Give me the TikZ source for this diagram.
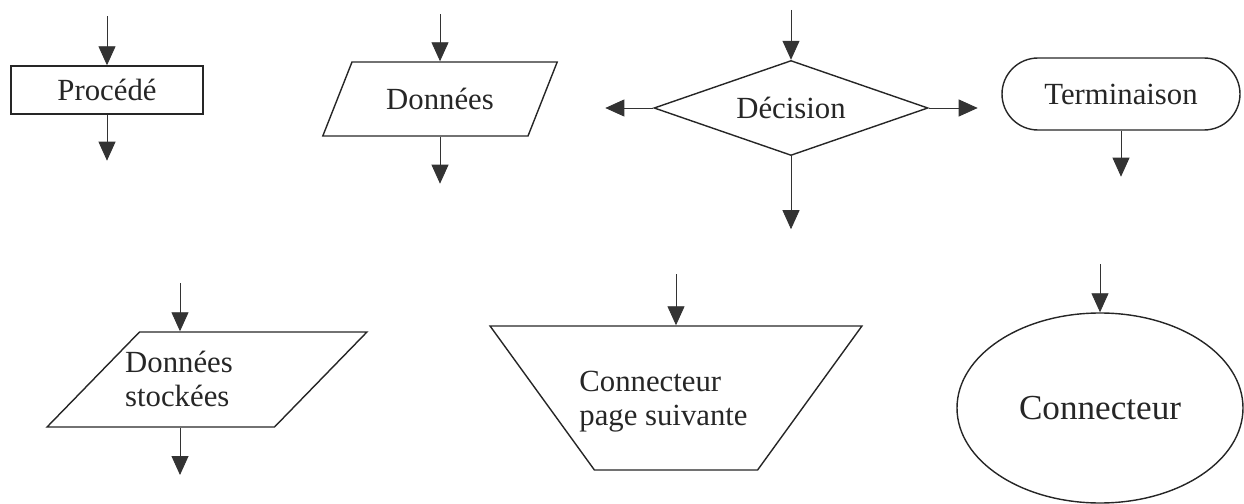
\documentclass[tikz,border=0pt]{standalone}
\usepackage{fontspec}
\setmainfont{Liberation Serif}
\usetikzlibrary{arrows.meta,positioning,shapes.geometric}

\begin{document}
\begin{tikzpicture}[
    sym/.style={draw=black!85, line width=0.8pt, align=center, text=black!85, font=\fontsize{17.5}{19.5}\selectfont, inner sep=0pt},
    para/.style={sym, trapezium, trapezium stretches=true, inner sep=3pt},
    txt/.style={align=left, text=black!85, font=\fontsize{17.5}{19.5}\selectfont, inner sep=0pt},
    arrow/.style={-{Triangle[width=0.34cm,length=0.38cm]}, line width=0.5pt, black!80}
]
    \useasboundingbox (0,0) rectangle (24.88,-10.08);

    % Top row
    \node[sym, minimum width=3.84cm, minimum height=0.96cm] (proc) at (2.14,-1.80) {Procédé};
    \node[para, trapezium left angle=58.7, trapezium right angle=121.3, minimum width=4.72cm, minimum height=1.48cm] (data) at (8.80,-1.98) {Données};
    \node[sym, diamond, aspect=2.88, minimum width=5.48cm, minimum height=1.90cm] (dec) at (15.82,-2.16) {Décision};
    \node[sym, rounded corners=0.72cm, minimum width=4.76cm, minimum height=1.44cm] (term) at (22.42,-1.88) {Terminaison};

    % Bottom row
    \node[para, trapezium left angle=55.6, trapezium right angle=124.4, minimum width=6.4cm, minimum height=1.9cm] (stored) at (4.14,-7.59) {};
    \node[txt] (storedtxt) at (3.58,-7.58) {Données\\stockées};
    \node[para, trapezium left angle=122.6, trapezium right angle=122.6, minimum width=7.44cm, minimum height=2.88cm] (page) at (13.52,-7.96) {};
    \node[txt] (pagetxt) at (13.27,-8.04) {Connecteur\\page suivante};
    \node[sym, ellipse, minimum width=5.72cm, minimum height=3.80cm, font=\fontsize{20}{24}\selectfont] (conn) at (22.00,-8.16) {Connecteur};

    % Arrow ends
    \coordinate[above=0.98cm of proc.north] (procin);
    \coordinate[below=0.92cm of proc.south] (procout);
    \coordinate[above=0.94cm of data.north] (datain);
    \coordinate[below=0.94cm of data.south] (dataout);
    \coordinate[above=1.00cm of dec.north] (decin);
    \coordinate[left=0.96cm of dec.west] (decleft);
    \coordinate[right=0.98cm of dec.east] (decright);
    \coordinate[below=1.46cm of dec.south] (decout);
    \coordinate[below=0.92cm of term.south] (termout);
    \coordinate (storedin) at (3.60,-5.66);
    \coordinate (storedout) at (3.60,-9.50);
    \coordinate[above=1.02cm of page.north] (pagein);
    \coordinate[above=0.96cm of conn.north] (connin);

    % Flow arrows
    \draw[arrow] (procin) -- (proc.north);
    \draw[arrow] (proc.south) -- (procout);
    \draw[arrow] (datain) -- (data.north);
    \draw[arrow] (data.south) -- (dataout);
    \draw[arrow] (decin) -- (dec.north);
    \draw[arrow] (dec.west) -- (decleft);
    \draw[arrow] (dec.east) -- (decright);
    \draw[arrow] (dec.south) -- (decout);
    \draw[arrow] (term.south) -- (termout);
    \draw[arrow] (storedin) -- (storedin |- stored.north);
    \draw[arrow] (storedout |- stored.south) -- (storedout);
    \draw[arrow] (pagein) -- (page.north);
    \draw[arrow] (connin) -- (conn.north);
\end{tikzpicture}
\end{document}
